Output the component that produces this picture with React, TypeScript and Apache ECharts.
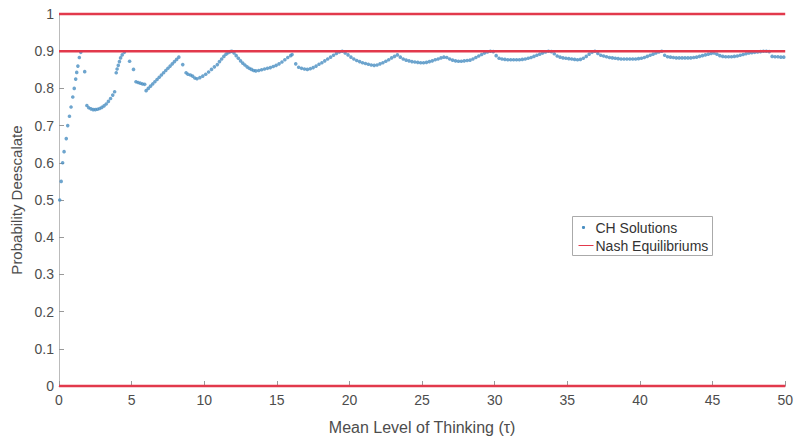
import React, { useEffect, useRef } from "react";
import * as echarts from "echarts";

// CH solutions: [mean level of thinking τ, probability deescalate]
const chSolutions: [number, number][] = [
  [0.05, 0.5], [0.15, 0.55], [0.25, 0.6], [0.35, 0.63], [0.5, 0.665], [0.6, 0.7], [0.72, 0.725],
  [0.83, 0.75], [0.95, 0.777], [1.05, 0.8], [1.15, 0.825], [1.22, 0.843], [1.3, 0.86], [1.4, 0.883],
  [1.5, 0.897], [1.77, 0.845],
  [1.92, 0.754], [2.05, 0.748], [2.2, 0.745], [2.35, 0.743], [2.5, 0.743], [2.65, 0.744], [2.8, 0.746],
  [2.95, 0.749], [3.1, 0.753], [3.25, 0.758], [3.4, 0.765], [3.55, 0.773], [3.7, 0.782], [3.83, 0.791],
  [3.94, 0.842], [4.0, 0.852], [4.08, 0.862], [4.16, 0.872], [4.24, 0.882], [4.35, 0.89], [4.5, 0.897],
  [4.86, 0.873], [5.13, 0.851],
  [5.3, 0.818], [5.45, 0.816], [5.6, 0.814], [5.75, 0.812], [5.9, 0.811],
  [6.0, 0.794], [6.15, 0.8], [6.3, 0.806], [6.45, 0.812], [6.6, 0.818], [6.75, 0.824], [6.9, 0.83],
  [7.05, 0.836], [7.2, 0.842], [7.35, 0.848], [7.5, 0.854], [7.65, 0.86], [7.8, 0.866], [7.95, 0.872],
  [8.1, 0.878], [8.25, 0.884], [8.52, 0.864], [8.75, 0.842],
  [8.88, 0.838], [9.05, 0.836], [9.2, 0.833], [9.35, 0.828], [9.5, 0.826], [9.7, 0.829], [9.9, 0.833],
  [10.1, 0.838], [10.3, 0.844], [10.5, 0.851], [10.7, 0.858], [10.9, 0.864], [11.05, 0.872],
  [11.2, 0.879], [11.35, 0.886], [11.5, 0.892], [11.65, 0.896], [11.8, 0.899], [11.9, 0.9],
  [12.05, 0.895], [12.2, 0.888], [12.35, 0.881], [12.5, 0.874], [12.65, 0.868], [12.8, 0.863],
  [12.95, 0.858], [13.1, 0.854], [13.25, 0.851], [13.4, 0.848], [13.55, 0.847], [13.75, 0.848],
  [13.95, 0.85], [14.15, 0.852], [14.35, 0.854], [14.55, 0.856], [14.75, 0.859], [14.95, 0.862],
  [15.15, 0.866], [15.35, 0.871], [15.55, 0.877], [15.75, 0.883], [15.95, 0.888], [16.05, 0.891],
  [16.3, 0.866], [16.5, 0.857], [16.7, 0.854], [16.9, 0.852], [17.1, 0.851], [17.3, 0.853],
  [17.5, 0.856], [17.7, 0.86], [17.9, 0.865], [18.1, 0.869], [18.3, 0.874], [18.5, 0.879],
  [18.7, 0.884], [18.9, 0.889], [19.1, 0.894], [19.3, 0.898], [19.5, 0.9],
  [19.7, 0.895], [19.9, 0.89], [20.1, 0.884], [20.3, 0.879], [20.5, 0.875], [20.7, 0.872],
  [20.9, 0.869], [21.1, 0.867], [21.3, 0.865], [21.5, 0.863], [21.7, 0.862], [21.9, 0.863],
  [22.1, 0.866], [22.3, 0.869], [22.5, 0.873], [22.7, 0.877], [22.9, 0.882], [23.1, 0.886], [23.3, 0.89],
  [23.5, 0.884], [23.7, 0.879], [23.9, 0.876], [24.1, 0.874], [24.3, 0.872], [24.5, 0.871],
  [24.7, 0.87], [24.9, 0.869], [25.1, 0.869], [25.3, 0.87], [25.5, 0.872], [25.7, 0.874],
  [25.9, 0.877], [26.1, 0.879], [26.3, 0.882], [26.5, 0.884], [26.7, 0.883], [26.9, 0.879],
  [27.1, 0.876], [27.3, 0.874], [27.5, 0.873], [27.7, 0.873], [27.9, 0.874], [28.1, 0.875],
  [28.3, 0.876], [28.5, 0.879], [28.7, 0.883], [28.9, 0.887], [29.1, 0.891], [29.3, 0.895],
  [29.5, 0.898], [29.7, 0.9], [29.9, 0.899],
  [30.1, 0.888], [30.3, 0.881], [30.5, 0.879], [30.7, 0.878], [30.9, 0.877], [31.1, 0.877],
  [31.3, 0.877], [31.5, 0.877], [31.7, 0.877], [31.9, 0.878], [32.1, 0.879], [32.3, 0.881],
  [32.5, 0.883], [32.7, 0.886], [32.9, 0.889], [33.1, 0.892], [33.3, 0.895], [33.5, 0.898],
  [33.7, 0.9], [33.9, 0.899],
  [34.1, 0.893], [34.3, 0.887], [34.5, 0.884], [34.7, 0.882], [34.9, 0.881], [35.1, 0.88],
  [35.3, 0.879], [35.5, 0.878], [35.7, 0.877], [35.9, 0.878], [36.1, 0.881], [36.3, 0.886],
  [36.5, 0.892], [36.7, 0.897], [36.9, 0.9],
  [37.1, 0.894], [37.3, 0.889], [37.5, 0.887], [37.7, 0.885], [37.9, 0.883], [38.1, 0.882],
  [38.3, 0.881], [38.5, 0.88], [38.7, 0.879], [38.9, 0.879], [39.1, 0.879], [39.3, 0.879],
  [39.5, 0.879], [39.7, 0.879], [39.9, 0.88], [40.1, 0.881], [40.3, 0.883], [40.5, 0.886],
  [40.7, 0.889], [40.9, 0.892], [41.1, 0.895], [41.3, 0.898], [41.5, 0.9],
  [41.7, 0.889], [41.9, 0.885], [42.1, 0.884], [42.3, 0.883], [42.5, 0.882], [42.7, 0.882],
  [42.9, 0.882], [43.1, 0.882], [43.3, 0.882], [43.5, 0.882], [43.7, 0.883], [43.9, 0.884],
  [44.1, 0.886], [44.3, 0.888], [44.5, 0.89], [44.7, 0.892], [44.9, 0.894], [45.1, 0.895],
  [45.3, 0.892], [45.5, 0.888], [45.7, 0.886], [45.9, 0.885], [46.1, 0.885], [46.3, 0.885],
  [46.5, 0.886], [46.7, 0.887], [46.9, 0.889], [47.1, 0.891], [47.3, 0.893], [47.5, 0.895],
  [47.7, 0.896], [47.9, 0.897], [48.1, 0.898], [48.3, 0.899], [48.5, 0.9], [48.7, 0.9],
  [48.9, 0.899], [49.1, 0.886], [49.3, 0.885], [49.5, 0.885], [49.7, 0.884], [49.9, 0.884],
];

// Nash equilibrium probability levels, spanning the τ range
const nashLevels: number[] = [0, 0.9, 1];
const tauRange: [number, number] = [0, 50];

const xTicks = { min: 0, max: 50, interval: 5 };
const yTicks = { min: 0, max: 1, interval: 0.1 };

const BLUE = "#4a8fc2";
const RED = "#e2394c";
const TEXT = "#4d4d4d";
const FONT = "'Liberation Sans', Arial, sans-serif";

export default function App() {
  const ref = useRef<HTMLDivElement>(null);

  useEffect(() => {
    if (!ref.current) return;
    const chart = echarts.init(ref.current, undefined, { renderer: "svg" });

    const nashSeries = nashLevels.map((lvl) => ({
      name: "Nash Equilibriums",
      type: "line",
      data: [
        [tauRange[0], lvl],
        [tauRange[1], lvl],
      ],
      symbol: "none",
      clip: false,
      lineStyle: { color: RED, width: 2.6 },
      itemStyle: { color: RED },
      z: 3,
    }));

    const lx = 572;
    const ly = 216;

    chart.setOption({
      animation: false,
      backgroundColor: "#ffffff",
      grid: { left: 59, right: 9, top: 14, bottom: 47, containLabel: false },
      xAxis: {
        type: "value",
        min: xTicks.min,
        max: xTicks.max,
        interval: xTicks.interval,
        name: "Mean Level of Thinking (τ)",
        nameLocation: "middle",
        nameGap: 33,
        nameTextStyle: { color: TEXT, fontSize: 16, fontFamily: FONT },
        axisLine: { show: true, lineStyle: { color: "#aaaaaa", width: 1 } },
        axisTick: { show: true, inside: true, length: 5, lineStyle: { color: "#999999" } },
        axisLabel: { color: TEXT, fontSize: 14, fontFamily: FONT, margin: 7 },
        splitLine: { show: false },
      },
      yAxis: {
        type: "value",
        min: yTicks.min,
        max: yTicks.max,
        interval: yTicks.interval,
        name: "Probability Deescalate",
        nameLocation: "middle",
        nameGap: 30,
        nameRotate: 90,
        nameTextStyle: { color: TEXT, fontSize: 15, fontFamily: FONT },
        axisLine: { show: true, lineStyle: { color: "#bbbbbb", width: 1 } },
        axisTick: { show: true, inside: true, length: 5, lineStyle: { color: "#999999" } },
        axisLabel: { color: TEXT, fontSize: 14, fontFamily: FONT, margin: 5 },
        splitLine: { show: false },
      },
      series: [
        {
          name: "CH Solutions",
          type: "scatter",
          data: chSolutions,
          symbol: "circle",
          symbolSize: 3.6,
          itemStyle: { color: BLUE },
          z: 2,
        },
        ...nashSeries,
      ],
      graphic: [
        {
          type: "group",
          left: lx,
          top: ly,
          children: [
            {
              type: "rect",
              shape: { x: 0, y: 0, width: 140, height: 39 },
              style: { fill: "#ffffff", stroke: "#aaaaaa", lineWidth: 1 },
            },
            {
              type: "circle",
              shape: { cx: 11, cy: 11, r: 1.6 },
              style: { fill: BLUE },
            },
            {
              type: "text",
              x: 23,
              y: 11,
              style: {
                text: "CH Solutions",
                fill: "#333333",
                font: `14px ${FONT}`,
                textVerticalAlign: "middle",
                verticalAlign: "middle",
              },
            },
            {
              type: "line",
              shape: { x1: 6, y1: 29, x2: 21, y2: 29 },
              style: { stroke: RED, lineWidth: 1 },
            },
            {
              type: "text",
              x: 23,
              y: 29,
              style: {
                text: "Nash Equilibriums",
                fill: "#333333",
                font: `14px ${FONT}`,
                textVerticalAlign: "middle",
                verticalAlign: "middle",
              },
            },
          ],
        },
      ],
    });

    return () => chart.dispose();
  }, []);

  return (
    <div
      ref={ref}
      style={{ position: "fixed", left: 0, top: 0, width: 796, height: 440, background: "#fff" }}
    />
  );
}
